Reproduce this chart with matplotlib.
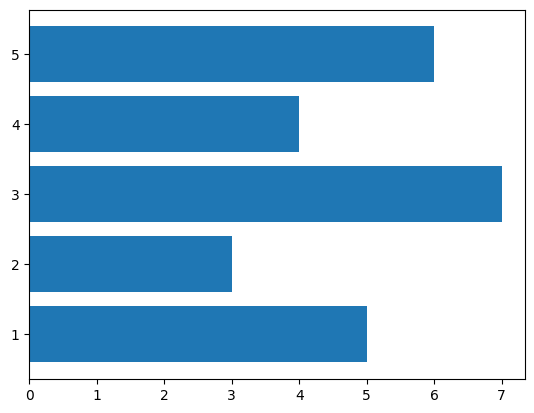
import matplotlib
matplotlib.use("Agg")
import matplotlib.pyplot as plt

# category positions and bar lengths
positions = [1, 2, 3, 4, 5]
values = [5, 3, 7, 4, 6]

fig = plt.figure(figsize=(5.34, 4.13), dpi=100)
ax = fig.add_axes([29.3 / 534, 1 - 379.2 / 413, 496 / 534, 369.6 / 413])
ax.barh(positions, values, color="#1f77b4")

fig.savefig("out.png", dpi=100)
